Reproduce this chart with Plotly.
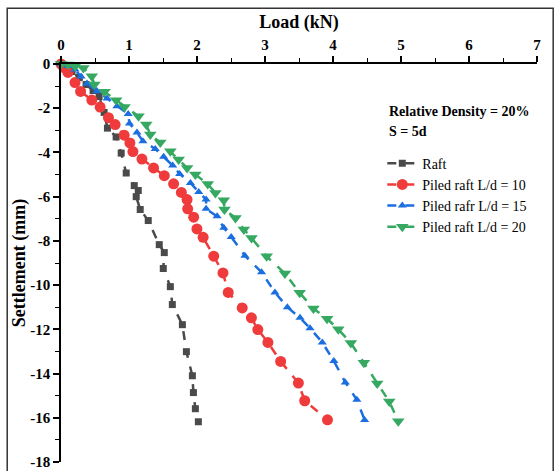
import plotly.graph_objects as go

raft_x = [0, 0.074, 0.162, 0.265, 0.369, 0.472, 0.56, 0.634, 0.683, 0.811, 0.885, 0.959, 1.077, 1.136, 1.106, 1.165, 1.283, 1.445, 1.519, 1.504, 1.608, 1.637, 1.785, 1.844, 1.932, 1.947, 1.976, 2.02]
raft_y = [0, -0.16, -0.34, -0.61, -0.93, -1.20, -1.47, -2.19, -2.90, -3.30, -4.03, -4.93, -5.50, -5.72, -6.00, -6.58, -7.08, -8.17, -8.53, -9.25, -10.07, -10.88, -11.79, -13.01, -14.10, -14.86, -15.59, -16.18]

pr10_x = [0, 0.044, 0.103, 0.206, 0.288, 0.453, 0.575, 0.698, 0.796, 0.929, 1.013, 1.058, 1.19, 1.361, 1.519, 1.656, 1.77, 1.854, 1.863, 1.951, 1.999, 2.09, 2.246, 2.382, 2.459, 2.665, 2.80, 2.895, 3.043, 3.23, 3.491, 3.584, 3.919]
pr10_y = [0, -0.16, -0.38, -0.84, -1.24, -1.63, -1.95, -2.43, -2.74, -3.22, -3.57, -3.96, -4.30, -4.70, -5.05, -5.42, -5.81, -6.13, -6.55, -6.93, -7.46, -7.84, -8.69, -9.45, -10.33, -11.03, -11.48, -12.01, -12.59, -13.45, -14.43, -15.23, -16.09]

pr15_x = [0, 0.103, 0.206, 0.295, 0.383, 0.531, 0.678, 0.822, 0.988, 1.007, 1.117, 1.205, 1.386, 1.509, 1.642, 1.745, 1.903, 2.025, 2.134, 2.134, 2.296, 2.394, 2.503, 2.704, 2.95, 3.146, 3.329, 3.515, 3.662, 3.842, 4.012, 4.181, 4.351, 4.465]
pr15_y = [0, -0.09, -0.25, -0.57, -0.88, -1.23, -1.56, -1.91, -2.26, -2.69, -3.10, -3.49, -3.84, -4.20, -4.59, -4.97, -5.38, -5.79, -6.13, -6.55, -6.89, -7.41, -7.82, -8.67, -9.42, -10.33, -11.00, -11.48, -11.95, -12.59, -13.43, -14.40, -15.19, -16.10]

pr20_x = [0, 0.103, 0.206, 0.329, 0.453, 0.491, 0.639, 0.811, 0.934, 1.14, 1.254, 1.313, 1.46, 1.608, 1.73, 1.854, 1.976, 2.158, 2.271, 2.394, 2.404, 2.566, 2.689, 2.802, 3.024, 3.293, 3.51, 3.712, 3.913, 4.078, 4.263, 4.454, 4.65, 4.827, 4.96]
pr20_y = [0, -0.02, -0.10, -0.18, -0.55, -0.93, -1.26, -1.64, -1.94, -2.36, -2.74, -3.19, -3.55, -3.95, -4.32, -4.70, -5.00, -5.43, -5.83, -6.16, -6.58, -6.96, -7.48, -7.87, -8.70, -9.47, -10.35, -11.06, -11.52, -12.00, -12.62, -13.51, -14.45, -15.26, -16.16]

x_ticks = [0, 1, 2, 3, 4, 5, 6, 7]
y_ticks = [0, -2, -4, -6, -8, -10, -12, -14, -16, -18]

FONT = "Liberation Serif"

fig = go.Figure()
series = [
    ("Raft", raft_x, raft_y, "#4a4a4a", "square", 7),
    ("Piled raft L/d = 10", pr10_x, pr10_y, "#ef3b3b", "circle", 11),
    ("Piled rafr L/d = 15", pr15_x, pr15_y, "#1a6ee0", "triangle-up", 8),
    ("Piled raft L/d = 20", pr20_x, pr20_y, "#35a862", "triangle-down", 11),
]
for name, xs, ys, col, sym, sz in series:
    fig.add_trace(go.Scatter(
        x=xs, y=ys, name=name, mode="lines+markers",
        line=dict(color=col, width=2.5, dash="dash"),
        marker=dict(color=col, symbol=sym, size=sz, line=dict(width=0)),
        cliponaxis=False,
    ))

fig.update_layout(
    width=554, height=471,
    margin=dict(l=61, r=17, t=64, b=9),
    paper_bgcolor="white", plot_bgcolor="white",
    font=dict(family=FONT, color="black"),
    showlegend=True,
    legend=dict(x=0.675, y=0.79, xanchor="left", yanchor="top",
                font=dict(family=FONT, size=14, color="black"),
                bgcolor="rgba(0,0,0,0)", tracegroupgap=0, itemwidth=30),
    xaxis=dict(
        side="top", range=[0, 7], tickvals=x_ticks, ticktext=[str(v) for v in x_ticks],
        showgrid=False, zeroline=False, showline=True, linecolor="black", linewidth=1.5,
        ticks="outside", ticklen=6, tickwidth=1.5, tickcolor="black",
        minor=dict(dtick=0.5, ticks="outside", ticklen=4, tickwidth=1, tickcolor="black"),
        tickfont=dict(family=FONT, size=15, color="black", weight="bold"),
        title=dict(text="<b>Load (kN)</b>", font=dict(family=FONT, size=18, color="black"), standoff=4),
        automargin=False,
    ),
    yaxis=dict(
        range=[-18, 0], tickvals=y_ticks, ticktext=[str(v) for v in y_ticks],
        showgrid=False, zeroline=False, showline=True, linecolor="black", linewidth=1.5,
        ticks="outside", ticklen=6, tickwidth=1.5, tickcolor="black",
        minor=dict(dtick=1, ticks="outside", ticklen=4, tickwidth=1, tickcolor="black"),
        tickfont=dict(family=FONT, size=15, color="black", weight="bold"),
        title=dict(text="<b>Settlement (mm)</b>", font=dict(family=FONT, size=18, color="black"), standoff=0),
        automargin=False,
    ),
)

fig.add_annotation(xref="paper", yref="paper", x=0.685, y=0.881, xanchor="left", yanchor="middle",
                   text="<b>Relative Density = 20%</b>", showarrow=False,
                   font=dict(family=FONT, size=14, color="black"))
fig.add_annotation(xref="paper", yref="paper", x=0.685, y=0.831, xanchor="left", yanchor="middle",
                   text="<b>S = 5d</b>", showarrow=False,
                   font=dict(family=FONT, size=14, color="black"))

fig.add_shape(type="rect", xref="paper", yref="paper",
              x0=-0.113, x1=1.034, y0=-0.05, y1=1.14,
              line=dict(color="#333333", width=1.5), fillcolor="rgba(0,0,0,0)")

fig.write_html("out.html", config={"displayModeBar": False},
               post_script="document.body.style.margin='0';document.body.style.overflow='hidden';")
